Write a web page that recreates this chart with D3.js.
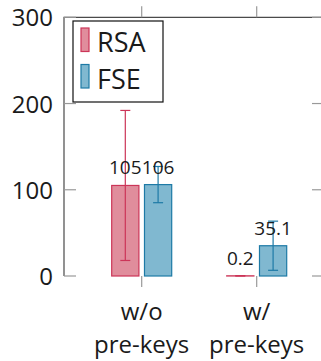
<!DOCTYPE html>
<html>
<head>
<meta charset="utf-8">
<script src="https://cdn.jsdelivr.net/npm/d3@7"></script>
<style>
  html, body { margin: 0; padding: 0; background: #fff; }
  svg { display: block; }
  text { font-family: "Open Sans", Lato, sans-serif; fill: #1a1a1a; }
</style>
</head>
<body>
<svg id="chart" width="321" height="361"></svg>
<script>
// Data
const categories = ["w/o pre-keys", "w/ pre-keys"];
const categoryLines = [["w/o", "pre-keys"], ["w/", "pre-keys"]];
const series = ["RSA", "FSE"];
const rsaValues = [105, 0.2];
const fseValues = [106, 35.1];
const rsaErrors = [87, 0.3];
const fseErrors = [21, 28.5];
const valueLabels = [["105", "0.2"], ["106", "35.1"]];
const yTicks = [0, 100, 200, 300];

const seriesValues = [rsaValues, fseValues];
const seriesErrors = [rsaErrors, fseErrors];
const fills = ["#e08d9c", "#80b8d0"];
const strokes = ["#cc3558", "#1d7aa6"];

const svg = d3.select("#chart");
const frame = { left: 64, right: 324, top: 17.3, bottom: 276 };

const y = d3.scaleLinear().domain([0, 300]).range([frame.bottom, frame.top]);
const x = d3.scalePoint().domain(categories).range([141.7, 256.7]);
const xs = d3.scaleBand().domain(series).range([-30, 30]).paddingInner(0.17);

// Axis frame
svg.append("path")
  .attr("d", `M${frame.left},${frame.bottom}V${frame.top}H${frame.right}V${frame.bottom}`)
  .attr("fill", "none").attr("stroke", "#4a4a4a").attr("stroke-width", 1.2);

// Y ticks (inside, both sides) and labels
const yAxis = svg.append("g");
yTicks.forEach(t => {
  const yy = y(t);
  yAxis.append("line").attr("x1", frame.left).attr("x2", frame.left + 12)
    .attr("y1", yy).attr("y2", yy).attr("stroke", "#999").attr("stroke-width", 1.2);
  yAxis.append("line").attr("x1", frame.right - 12).attr("x2", frame.right)
    .attr("y1", yy).attr("y2", yy).attr("stroke", "#999").attr("stroke-width", 1.2);
  yAxis.append("text").attr("x", 53).attr("y", yy + 9)
    .attr("text-anchor", "end").attr("font-size", 24).text(t);
});

// X ticks (outside, bottom and top) and labels
const xAxis = svg.append("g");
categories.forEach((c, i) => {
  const xx = x(c);
  xAxis.append("line").attr("x1", xx).attr("x2", xx)
    .attr("y1", frame.bottom).attr("y2", frame.bottom + 11)
    .attr("stroke", "#999").attr("stroke-width", 1.2);
  xAxis.append("line").attr("x1", xx).attr("x2", xx)
    .attr("y1", frame.top).attr("y2", frame.top - 11)
    .attr("stroke", "#999").attr("stroke-width", 1.2);
  categoryLines[i].forEach((line, j) => {
    xAxis.append("text").attr("x", xx).attr("y", 320 + j * 33)
      .attr("text-anchor", "middle").attr("font-size", 24).text(line);
  });
});

// Bars, error bars and value labels
series.forEach((s, si) => {
  const g = svg.append("g");
  categories.forEach((c, ci) => {
    const v = seriesValues[si][ci];
    const e = seriesErrors[si][ci];
    const x0 = x(c) + xs(s);
    const cx = x0 + xs.bandwidth() / 2;
    g.append("rect")
      .attr("x", x0).attr("y", y(v))
      .attr("width", xs.bandwidth()).attr("height", y(0) - y(v))
      .attr("fill", fills[si]).attr("stroke", strokes[si]).attr("stroke-width", 1.2);
    g.append("line").attr("x1", cx).attr("x2", cx)
      .attr("y1", y(v + e)).attr("y2", y(Math.max(0, v - e)))
      .attr("stroke", strokes[si]).attr("stroke-width", 1.2);
    [v + e, Math.max(0, v - e)].forEach(ev => {
      g.append("line").attr("x1", cx - 5).attr("x2", cx + 5)
        .attr("y1", y(ev)).attr("y2", y(ev))
        .attr("stroke", strokes[si]).attr("stroke-width", 1.2);
    });
    g.append("text").attr("x", cx).attr("y", y(v) - 11)
      .attr("text-anchor", "middle").attr("font-size", 19).text(valueLabels[si][ci]);
  });
});

// Legend
const legend = svg.append("g");
legend.append("rect").attr("x", 73).attr("y", 21).attr("width", 90).attr("height", 81)
  .attr("fill", "#fff").attr("stroke", "#111").attr("stroke-width", 1.2);
series.forEach((s, si) => {
  const top = 28 + si * 36.5;
  legend.append("rect").attr("x", 81).attr("y", top).attr("width", 8).attr("height", 23.5)
    .attr("fill", fills[si]).attr("stroke", strokes[si]).attr("stroke-width", 1.2);
  legend.append("text").attr("x", 97).attr("y", top + 24)
    .attr("font-size", 27).text(s);
});
</script>
</body>
</html>
